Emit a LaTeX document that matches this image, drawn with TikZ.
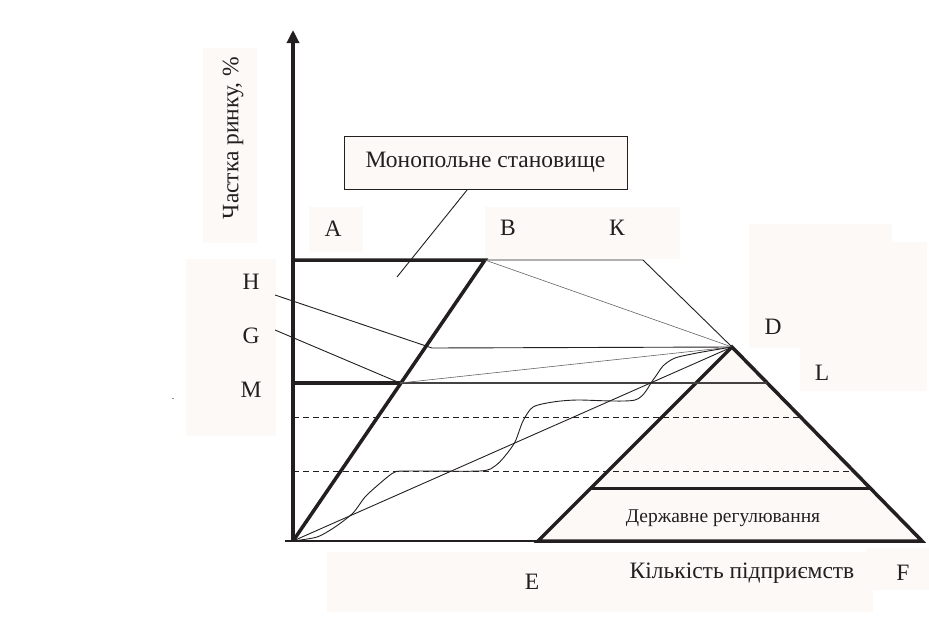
\documentclass[tikz,border=0pt]{standalone}
\usepackage{fontspec}
\setmainfont{Liberation Serif}
\usetikzlibrary{arrows.meta}
\definecolor{ink}{HTML}{231F20}
\definecolor{paper}{HTML}{FDF9F6}

\begin{document}
\begin{tikzpicture}[x=1pt,y=-1pt,
  lbl/.style={text=ink,inner sep=0pt,font=\fontsize{23.5}{24}\selectfont},
  bold/.style={draw=ink,line width=3.5pt},
  thin/.style={draw=ink,line width=0.9pt},
  faint/.style={draw=ink!70,line width=0.6pt}]
  \useasboundingbox (0,0) rectangle (929,621);
  % label backgrounds
  \fill[paper] (203,48) rectangle (257,243);
  \fill[paper] (309,207) rectangle (363,252);
  \fill[paper] (485,207) rectangle (680,259);
  \fill[paper] (186,259) rectangle (276,436);
  \fill[paper] (749,224) rectangle (892,348);
  \fill[paper] (800,242) rectangle (927,391);
  \fill[paper] (327,552) rectangle (873,612);
  \fill[paper] (866,548) rectangle (929,590);
  % points
  \path (293,541) coordinate (O) (293,30) coordinate (Ytip)
  (293,260) coordinate (Ap) (485,260) coordinate (Bp) (643,260) coordinate (Kp)
  (732,347) coordinate (Dp) (432,348) coordinate (Hp) (400,383) coordinate (Gp)
  (293,383) coordinate (Mp) (767,383) coordinate (Lp)
  (538,541) coordinate (Ep) (922,541) coordinate (Fp) (285,541) coordinate (Xs)
  (275,295) coordinate (Hl) (275,330) coordinate (Gl) (397,277) coordinate (monotip)
  (591,488) coordinate (Rl) (870,488) coordinate (Rr)
  (293,417) coordinate (d1l) (800,417) coordinate (d1r)
  (293,471) coordinate (d2l) (853,471) coordinate (d2r);
  % pyramid
  \fill[paper] (Dp) -- (Ep) -- (Fp) -- cycle;
  \draw[thin,dashed,dash pattern=on 6pt off 4pt] (d1l) -- (d1r);
  \draw[thin,dashed,dash pattern=on 6pt off 4pt] (d2l) -- (d2r);
  \draw[ink,line width=1.5pt] (Xs) -- (Ep);
  \draw[bold,line join=miter] (Dp) -- (Ep) -- (Fp) -- cycle;
  \draw[draw=ink,line width=3pt] (Rl) -- (Rr);
  % monopoly zone
  \draw[bold,line join=miter] (Ap) -- (Bp) -- (O);
  \draw[bold] (Mp) -- (Gp);
  \draw[draw=ink!85,line width=1.6pt] (Gp) -- (Lp);
  \draw[thin] (Bp) -- (Kp) -- (Dp);
  \draw[thin] (Hl) -- (Hp) -- (Dp);
  \draw[thin] (Gl) -- (Gp);
  \draw[faint] (Bp) -- (Dp);
  \draw[faint] (Gp) -- (Dp);
  \draw[thin] (O) -- (Dp);
  \draw[thin] plot[smooth,tension=0.45] coordinates {(293,541) (317,537) (335,527)
    (353,513) (365,497) (378,485) (393,473) (405,471) (480,471) (495,466)
    (505,456) (515,442) (523,421) (533,407) (553,402) (577,400) (635,400)
    (653,380) (663,366) (675,358) (697,353) (720,349) (732,347)};
  \draw[bold,-{Triangle[length=13pt,width=12pt]}] (O) -- (Ytip);
  % texts
  \node[draw=ink,fill=paper,line width=0.9pt,minimum width=283pt,minimum height=53pt,
    lbl] (mono) at (485.5,162.5) {Монопольне становище};
  \draw[thin] (mono.south) ++(-18,0) -- (monotip);
  \node[lbl,rotate=90] (ylab) at (233,138) {Частка ринку, \%};
  \node[lbl] (A) at (333,229) {A};
  \node[lbl] (B) at (508,228) {B};
  \node[lbl] (K) at (617,228) {К};
  \node[lbl] (H) at (251,282) {H};
  \node[lbl] (G) at (251,336) {G};
  \node[lbl] (M) at (251,390) {M};
  \node[lbl] (D) at (773,327) {D};
  \node[lbl] (L) at (822,373) {L};
  \node[lbl] (E) at (532,582) {E};
  \node[lbl] (xlab) at (742,573) {Кількість підприємств};
  \node[lbl] (F) at (903,573) {F};
  \node[lbl,font=\fontsize{19.5}{20}\selectfont] (reg) at (723,518) {Державне регулювання};
  \node[lbl,font=\fontsize{10}{10}\selectfont] (dot) at (173,399) {.};
\end{tikzpicture}
\end{document}
